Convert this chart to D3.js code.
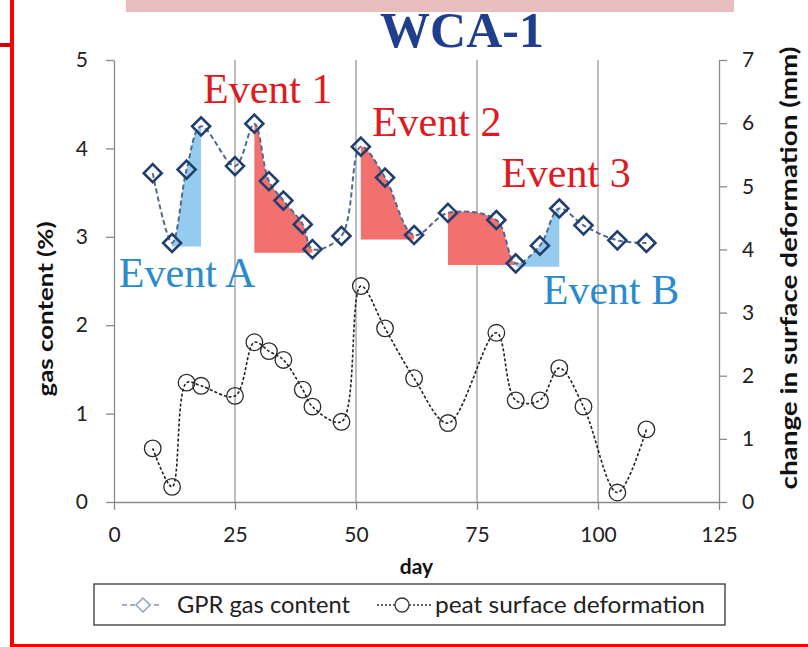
<!DOCTYPE html>
<meta charset="utf-8">
<script src="https://d3js.org/d3.v7.min.js"></script>
<style>
  body { margin: 0; background: #fff; }
  text { font-family: Lato, "Open Sans", sans-serif; }
</style>
<svg id="chart" width="808" height="647"></svg>
<script>

// sampling days and the two series
var days = [8, 12, 15, 18, 25, 29, 32, 35, 39, 41, 47, 51, 56, 62, 69, 79, 83, 88, 92, 97, 104, 110];
var gasContent = [3.72, 2.93, 3.76, 4.25, 3.80, 4.28, 3.63, 3.41, 3.14, 2.86, 3.01,
                  4.02, 3.67, 3.02, 3.27, 3.19, 2.70, 2.90, 3.32, 3.13, 2.96, 2.93];
var deformation = [0.85, 0.24, 1.89, 1.84, 1.68, 2.53, 2.39, 2.25, 1.78, 1.51, 1.27,
                   3.42, 2.75, 1.96, 1.25, 2.68, 1.61, 1.61, 2.12, 1.51, 0.15, 1.15];

// axis ticks
var dayTicks = [0, 25, 50, 75, 100, 125];
var gasTicks = [0, 1, 2, 3, 4, 5];
var mmTicks = [0, 1, 2, 3, 4, 5, 6, 7];

// shaded events (day range + baseline in gas %)
var eventNames = ["Event A", "Event 1", "Event 2", "Event 3", "Event B"];
var eventStart = [12, 29, 51, 69, 83];
var eventEnd = [18, 41, 62, 83, 92];
var eventBase = [2.89, 2.82, 2.97, 2.68, 2.66];
var eventType = ["rise", "fall", "fall", "fall", "rise"];
// label anchor in data units (day, gas %)
var eventLabelDay = [1.0, 18.4, 53.3, 80.0, 88.6];
var eventLabelGas = [2.43, 4.51, 4.14, 3.56, 2.24];

var data = days.map(function(d, i) {
  return {day: d, gas: gasContent[i], mm: deformation[i]};
});

var svg = d3.select("#chart");

// page decorations
svg.append("rect").attr("x", 126).attr("y", 0).attr("width", 608).attr("height", 12)
  .attr("fill", "#e7bdbd");
svg.append("rect").attr("x", 10).attr("y", 0).attr("width", 4).attr("height", 647)
  .attr("fill", "#ff0000");
svg.append("rect").attr("x", 0).attr("y", 43).attr("width", 11).attr("height", 4)
  .attr("fill", "#d40000");
svg.append("rect").attr("x", 10).attr("y", 644).attr("width", 798).attr("height", 3)
  .attr("fill", "#ff0000");

// title
svg.append("text")
  .attr("x", 462).attr("y", 47)
  .attr("text-anchor", "middle")
  .style("font-family", "'Liberation Serif', serif")
  .style("font-weight", "bold")
  .style("font-size", "50px")
  .attr("fill", "#1f3f8c")
  .text("WCA-1");

// scales
var x = d3.scaleLinear().domain([0, 125]).range([114, 719]);
var yGas = d3.scaleLinear().domain([0, 5]).range([502, 60]);
var yMm = d3.scaleLinear().domain([0, 7]).range([502, 60]);

// vertical gridlines
svg.append("g").selectAll("line")
  .data(dayTicks.slice(1, -1))
  .enter().append("line")
    .attr("x1", function(d) { return x(d); })
    .attr("x2", function(d) { return x(d); })
    .attr("y1", yGas(5)).attr("y2", yGas(0))
    .attr("stroke", "#9a9a9a").attr("stroke-width", 1.3);

// axes
var axisColor = "#8a8a8a";
function styleAxis(g) {
  g.select(".domain").attr("stroke", axisColor).attr("stroke-width", 1.3);
  g.selectAll(".tick line").attr("stroke", axisColor).attr("stroke-width", 1.3);
  g.selectAll(".tick text").attr("fill", "#222").style("font-size", "21px");
}

svg.append("g")
  .attr("transform", "translate(0," + yGas(0) + ")")
  .call(d3.axisBottom(x).tickValues(dayTicks).tickFormat(d3.format("d"))
    .tickSize(8).tickSizeOuter(0).tickPadding(17))
  .call(styleAxis);

svg.append("g")
  .attr("transform", "translate(" + x(0) + ",0)")
  .call(d3.axisLeft(yGas).tickValues(gasTicks).tickFormat(d3.format("d"))
    .tickSize(8).tickSizeOuter(0).tickPadding(18))
  .call(styleAxis);

svg.append("g")
  .attr("transform", "translate(" + x(125) + ",0)")
  .call(d3.axisRight(yMm).tickValues(mmTicks).tickFormat(d3.format("d"))
    .tickSize(8).tickSizeOuter(0).tickPadding(15))
  .call(styleAxis);

// axis titles
svg.append("text")
  .attr("x", x(62.5)).attr("y", 574)
  .attr("text-anchor", "middle")
  .style("font-weight", "bold").style("font-size", "21px")
  .attr("fill", "#111")
  .text("day");

svg.append("text")
  .attr("transform", "translate(53,309) rotate(-90)")
  .attr("text-anchor", "middle")
  .style("font-weight", "bold").style("font-size", "21px")
  .attr("fill", "#111")
  .attr("textLength", 175).attr("lengthAdjust", "spacingAndGlyphs")
  .text("gas content (%)");

svg.append("text")
  .attr("transform", "translate(797,268) rotate(-90)")
  .attr("text-anchor", "middle")
  .style("font-weight", "bold").style("font-size", "22px")
  .attr("fill", "#111")
  .attr("textLength", 443).attr("lengthAdjust", "spacingAndGlyphs")
  .text("change in surface deformation (mm)");

var smooth = d3.curveCatmullRom.alpha(0.5);
var red = "#f2706d", blue = "#95cbee";

// shaded events: area under the gas curve down to the baseline, cut to the day range
var defs = svg.append("defs");
eventNames.forEach(function(name, i) {
  defs.append("clipPath").attr("id", "ev" + i)
    .append("rect")
      .attr("x", x(eventStart[i])).attr("y", 0)
      .attr("width", x(eventEnd[i]) - x(eventStart[i]))
      .attr("height", 647);

  var area = d3.area()
    .x(function(d) { return x(d.day); })
    .y0(yGas(eventBase[i]))
    .y1(function(d) { return Math.min(yGas(d.gas), yGas(eventBase[i])); })
    .curve(smooth);

  svg.append("path")
    .datum(data)
    .attr("clip-path", "url(#ev" + i + ")")
    .attr("d", area)
    .attr("fill", eventType[i] == "rise" ? blue : red);
});

// gas line + diamonds
var gasLine = d3.line()
  .x(function(d) { return x(d.day); })
  .y(function(d) { return yGas(d.gas); })
  .curve(smooth);

svg.append("path")
  .datum(data)
  .attr("d", gasLine)
  .attr("fill", "none")
  .attr("stroke", "#52698f")
  .attr("stroke-width", 2)
  .attr("stroke-dasharray", "5,3");

var diamond = "M0,-9L9,0L0,9L-9,0Z";
svg.append("g").selectAll("path")
  .data(data)
  .enter().append("path")
    .attr("transform", function(d) { return "translate(" + x(d.day) + "," + yGas(d.gas) + ")"; })
    .attr("d", diamond)
    .attr("fill", "none")
    .attr("stroke", "#213f6e")
    .attr("stroke-width", 2.6);

// deformation line + circles
var mmLine = d3.line()
  .x(function(d) { return x(d.day); })
  .y(function(d) { return yMm(d.mm); })
  .curve(smooth);

svg.append("path")
  .datum(data)
  .attr("d", mmLine)
  .attr("fill", "none")
  .attr("stroke", "#222")
  .attr("stroke-width", 1.6)
  .attr("stroke-dasharray", "3,2");

svg.append("g").selectAll("circle")
  .data(data)
  .enter().append("circle")
    .attr("cx", function(d) { return x(d.day); })
    .attr("cy", function(d) { return yMm(d.mm); })
    .attr("r", 8.3)
    .attr("fill", "none")
    .attr("stroke", "#2a2a2a")
    .attr("stroke-width", 1.3);

// event labels
eventNames.forEach(function(name, i) {
  svg.append("text")
    .attr("x", x(eventLabelDay[i]))
    .attr("y", yGas(eventLabelGas[i]))
    .style("font-family", "'Liberation Serif', serif")
    .style("font-size", "42px")
    .attr("fill", eventType[i] == "rise" ? "#2a8bcf" : "#de1b22")
    .text(name);
});

// legend
var legend = svg.append("g");
legend.append("rect")
  .attr("x", 94).attr("y", 584).attr("width", 631).attr("height", 41)
  .attr("fill", "#fff").attr("stroke", "#444").attr("stroke-width", 1.4);

legend.append("line")
  .attr("x1", 122).attr("x2", 162).attr("y1", 605).attr("y2", 605)
  .attr("stroke", "#7f95b8").attr("stroke-width", 1.5).attr("stroke-dasharray", "5,3");
legend.append("path")
  .attr("transform", "translate(143,605)")
  .attr("d", "M0,-7L7,0L0,7L-7,0Z")
  .attr("fill", "#fff").attr("stroke", "#8ea4c6").attr("stroke-width", 1.5);
legend.append("text")
  .attr("x", 177).attr("y", 613)
  .style("font-size", "24px").attr("fill", "#222")
  .attr("textLength", 173).attr("lengthAdjust", "spacingAndGlyphs")
  .text("GPR gas content");

legend.append("line")
  .attr("x1", 377).attr("x2", 433).attr("y1", 605).attr("y2", 605)
  .attr("stroke", "#333").attr("stroke-width", 1.3).attr("stroke-dasharray", "2,2");
legend.append("circle")
  .attr("cx", 402).attr("cy", 605).attr("r", 7)
  .attr("fill", "#fff").attr("stroke", "#333").attr("stroke-width", 1.3);
legend.append("text")
  .attr("x", 435).attr("y", 613)
  .style("font-size", "24px").attr("fill", "#222")
  .attr("textLength", 270).attr("lengthAdjust", "spacingAndGlyphs")
  .text("peat surface deformation");

</script>
